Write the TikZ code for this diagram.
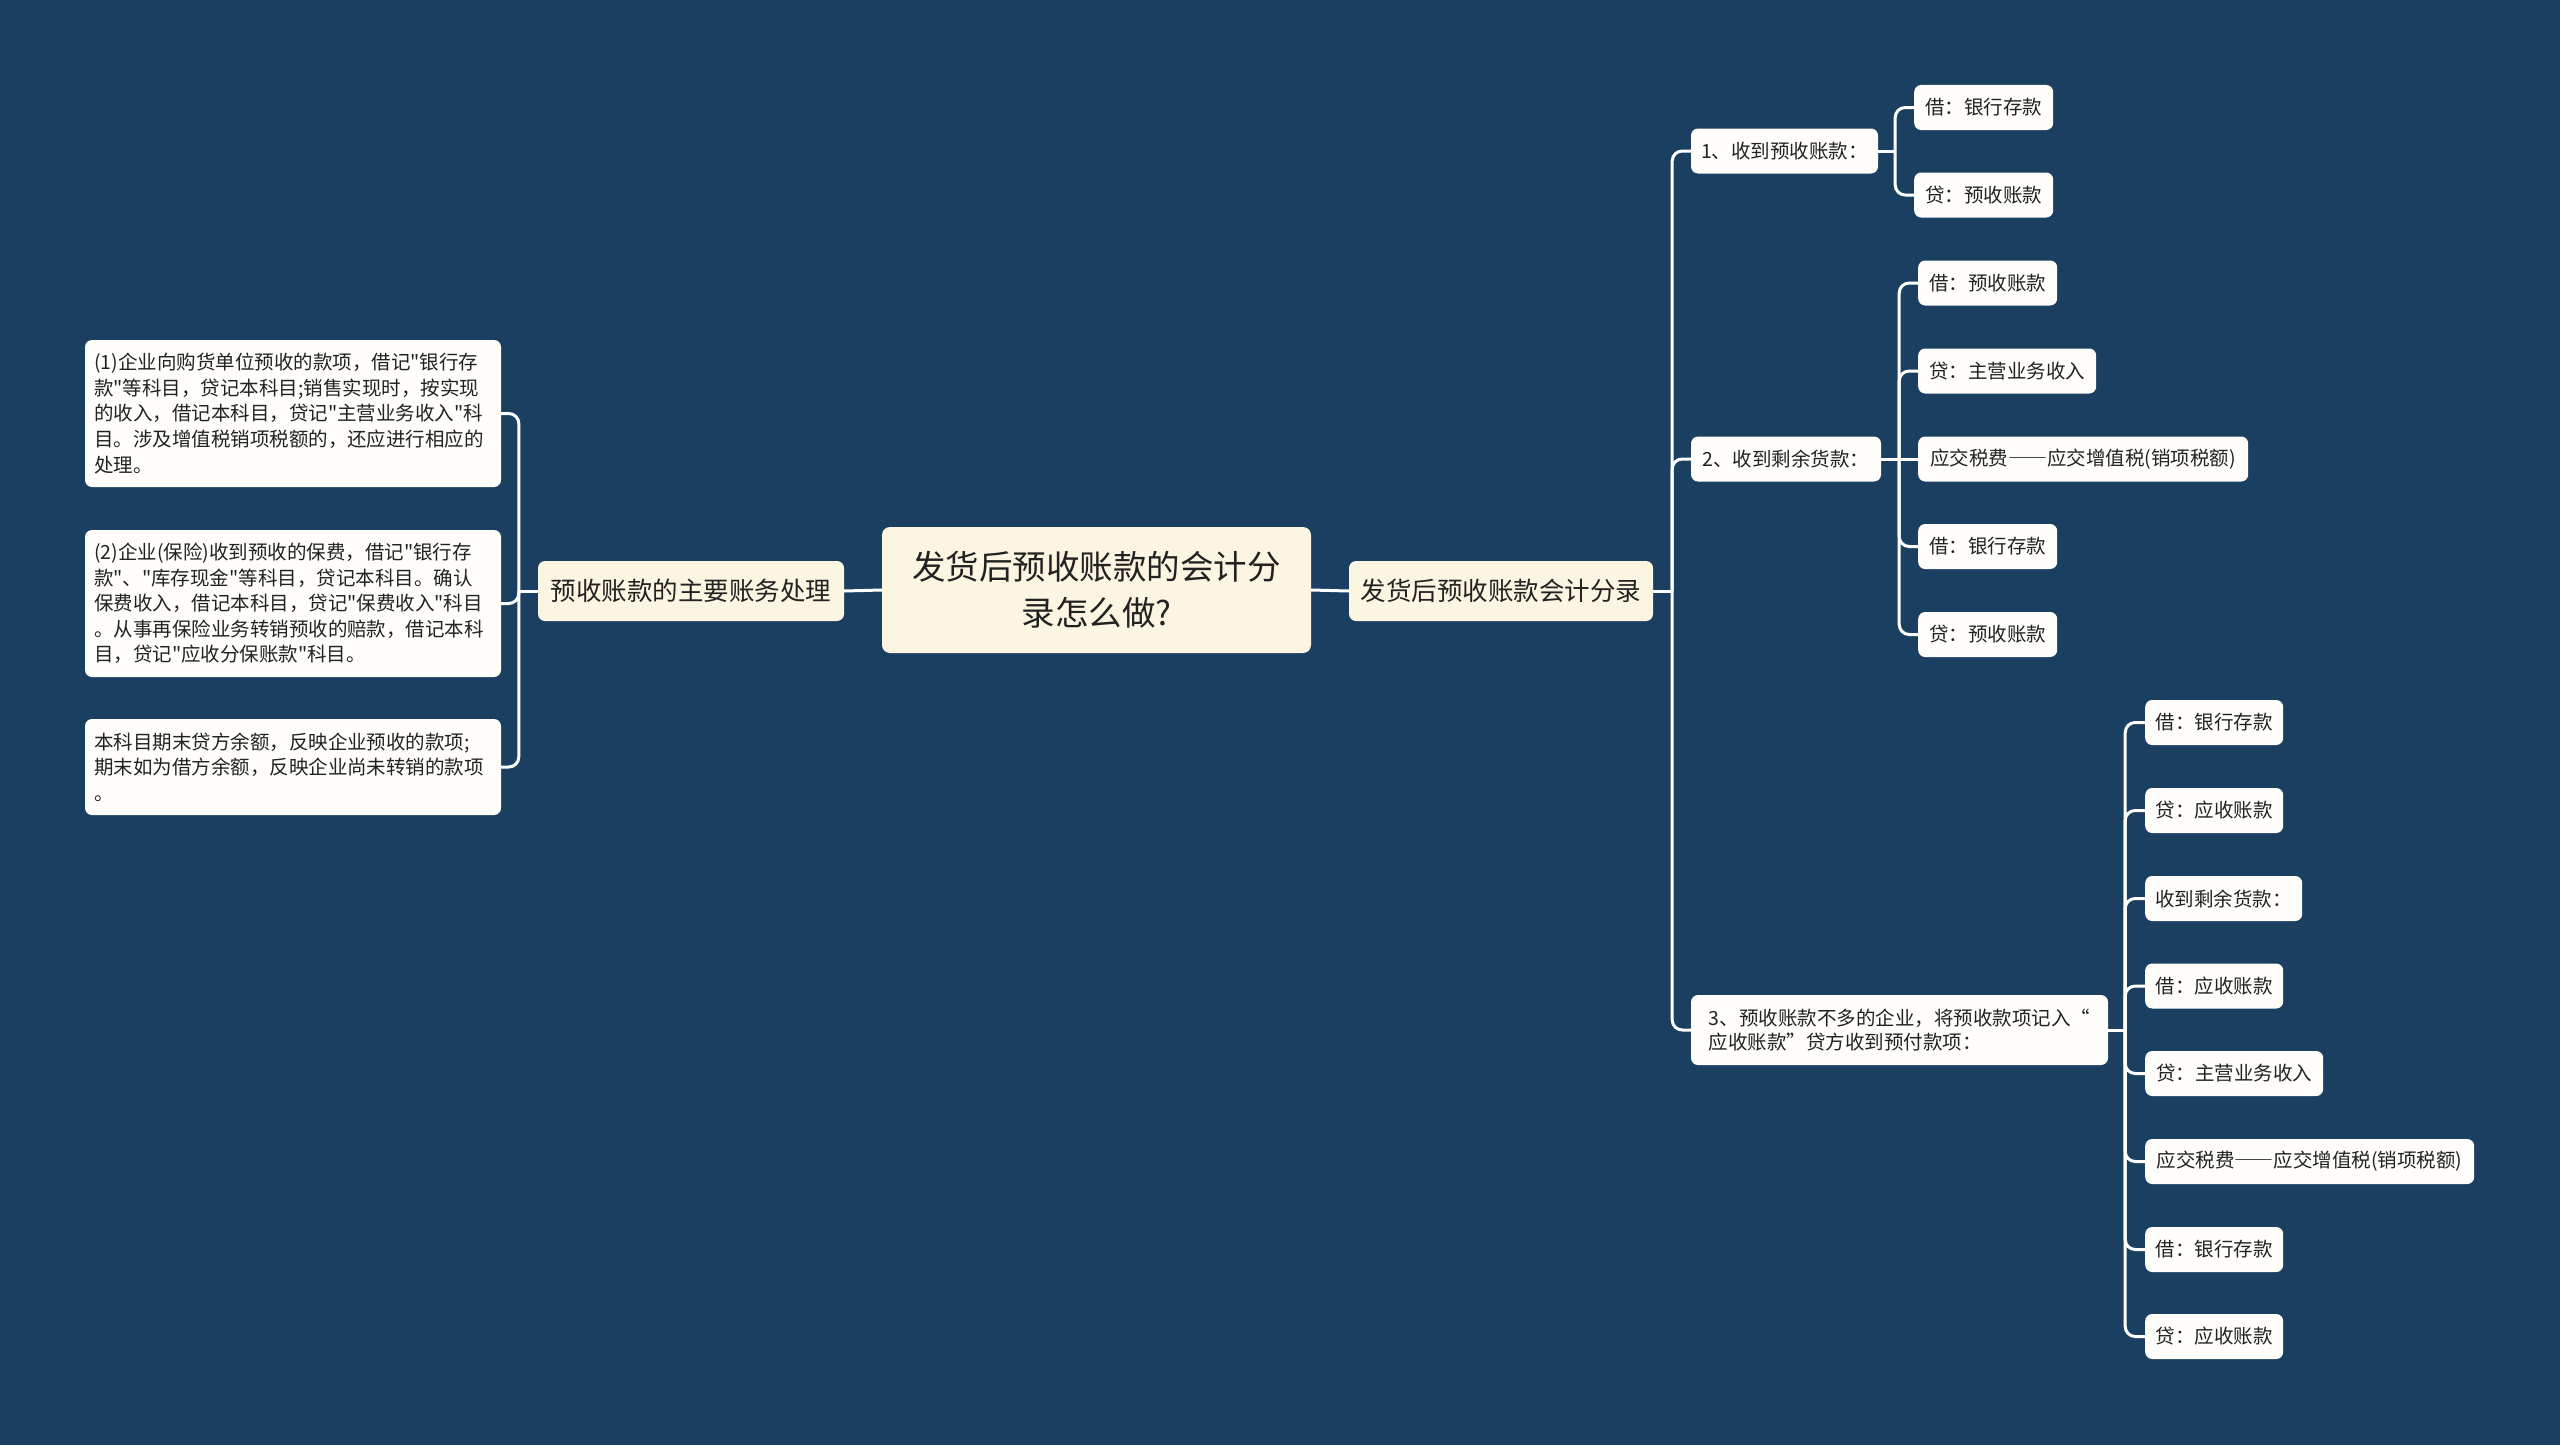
\documentclass[tikz,border=0pt]{standalone}
\usepackage{fontspec}
\setmainfont{Noto Sans CJK SC}[Ligatures=TeXOff]
\newcommand{\fwdash}{{\addfontfeature{RawFeature=+fwid}——}}
\definecolor{bgc}{HTML}{1B3F60}
\definecolor{cream}{HTML}{FBF5E2}
\definecolor{leafc}{HTML}{FFFEFB}
\definecolor{txt}{HTML}{222222}
\tikzset{
  rootbox/.style={fill=cream, rounded corners=8pt, inner sep=0pt, minimum width=429pt, minimum height=126pt, align=center, text=txt, font=\fontsize{33.5}{46}\selectfont},
  lonebox/.style={fill=cream, rounded corners=7pt, inner sep=0pt, minimum height=60pt, text=txt, font=\fontsize{25.5}{30}\selectfont},
  leafbox/.style={fill=leafc, rounded corners=7pt, inner sep=0pt, minimum height=45pt, text=txt, font=\fontsize{19.5}{24}\selectfont},
  bigleaf/.style={fill=leafc, rounded corners=7pt, inner ysep=0pt, inner xsep=9pt, text width=398pt, align=left, text=txt, font=\fontsize{19.5}{25.6}\selectfont},
  link/.style={draw=white, line width=3pt},
  clink/.style={draw=white, line width=3pt, rounded corners=10pt},
}
\begin{document}
\begin{tikzpicture}[x=1pt, y=-1pt]
\useasboundingbox (0,0) rectangle (2560,1445);
\fill[bgc] (0,0) rectangle (2560,1445);

% root and level one
\node[rootbox] (root) at (1096.5,590) {发货后预收账款的会计分\\录怎么做?};
\node[lonebox, minimum width=306pt] (L) at (691,591) {预收账款的主要账务处理};
\node[lonebox, minimum width=304pt] (R) at (1501,591) {发货后预收账款会计分录};
\draw[link] (root.west) -- (L.east);
\draw[link] (root.east) -- (R.west);

% left leaves
\node[bigleaf, minimum height=147pt] (la) at (293,413.5) {(1)企业向购货单位预收的款项，借记"银行存\\款"等科目，贷记本科目;销售实现时，按实现\\的收入，借记本科目，贷记"主营业务收入"科\\目。涉及增值税销项税额的，还应进行相应的\\处理。};
\node[bigleaf, minimum height=147pt] (lb) at (293,603.5) {(2)企业(保险)收到预收的保费，借记"银行存\\款"、"库存现金"等科目，贷记本科目。确认\\保费收入，借记本科目，贷记"保费收入"科目\\。从事再保险业务转销预收的赔款，借记本科\\目，贷记"应收分保账款"科目。};
\node[bigleaf, minimum height=96pt] (lc) at (293,767) {本科目期末贷方余额，反映企业预收的款项;\\期末如为借方余额，反映企业尚未转销的款项\\。};
\coordinate (sl) at ([xshift=-19pt]L.west);
\draw[link] (L.west) -- (sl);
\draw[clink] (sl) |- (la.east);
\draw[clink] (sl) |- (lb.east);
\draw[clink] (sl) |- (lc.east);

% right level two
\node[leafbox, minimum width=187pt] (n1) at (1784.5,151) {1、收到预收账款：};
\node[leafbox, minimum width=190pt] (n2) at (1786,459) {2、收到剩余货款：};
\node[leafbox, minimum height=70pt, minimum width=417pt, align=left, font=\fontsize{19.5}{24.5}\selectfont] (n3) at (1899.5,1030) {3、预收账款不多的企业，将预收款项记入“\\应收账款”贷方收到预付款项：};
\coordinate (sr) at ([xshift=19pt]R.east);
\draw[link] (R.east) -- (sr);
\draw[clink] (sr) |- (n1.west);
\draw[clink] (sr) |- (n2.west);
\draw[clink] (sr) |- (n3.west);

% children of n1
\node[leafbox, anchor=west, minimum width=139pt] (a1) at (1914,107.5) {借：银行存款};
\node[leafbox, anchor=west, minimum width=139pt] (a2) at (1914,195) {贷：预收账款};
\coordinate (s1) at ([xshift=17pt]n1.east);
\draw[link] (n1.east) -- (s1);
\draw[clink] (s1) |- (a1.west);
\draw[clink] (s1) |- (a2.west);

% children of n2
\node[leafbox, anchor=west, minimum width=139pt] (b1) at (1918,283) {借：预收账款};
\node[leafbox, anchor=west, minimum width=178pt] (b2) at (1918,371) {贷：主营业务收入};
\node[leafbox, anchor=west, minimum width=330pt] (b3) at (1918,459) {应交税费\fwdash 应交增值税(销项税额)};
\node[leafbox, anchor=west, minimum width=139pt] (b4) at (1918,546.5) {借：银行存款};
\node[leafbox, anchor=west, minimum width=139pt] (b5) at (1918,634.5) {贷：预收账款};
\coordinate (s2) at ([xshift=18pt]n2.east);
\draw[link] (n2.east) -- (s2);
\draw[clink] (s2) |- (b1.west);
\draw[clink] (s2) |- (b2.west);
\draw[link] (s2) -- (b3.west);
\draw[clink] (s2) |- (b4.west);
\draw[clink] (s2) |- (b5.west);

% children of n3
\node[leafbox, anchor=west, minimum width=138pt] (c1) at (2145,722.5) {借：银行存款};
\node[leafbox, anchor=west, minimum width=138pt] (c2) at (2145,810.5) {贷：应收账款};
\node[leafbox, anchor=west, minimum width=157pt] (c3) at (2145,898.5) {收到剩余货款：};
\node[leafbox, anchor=west, minimum width=138pt] (c4) at (2145,986) {借：应收账款};
\node[leafbox, anchor=west, minimum width=178pt] (c5) at (2145,1073.5) {贷：主营业务收入};
\node[leafbox, anchor=west, minimum width=329pt] (c6) at (2145,1161.5) {应交税费\fwdash 应交增值税(销项税额)};
\node[leafbox, anchor=west, minimum width=138pt] (c7) at (2145,1249.5) {借：银行存款};
\node[leafbox, anchor=west, minimum width=138pt] (c8) at (2145,1336.5) {贷：应收账款};
\coordinate (s3) at ([xshift=17pt]n3.east);
\draw[link] (n3.east) -- (s3);
\foreach \c in {c1,c2,c3,c4,c5,c6,c7,c8} {
  \draw[clink] (s3) |- (\c.west);
}
\end{tikzpicture}
\end{document}
